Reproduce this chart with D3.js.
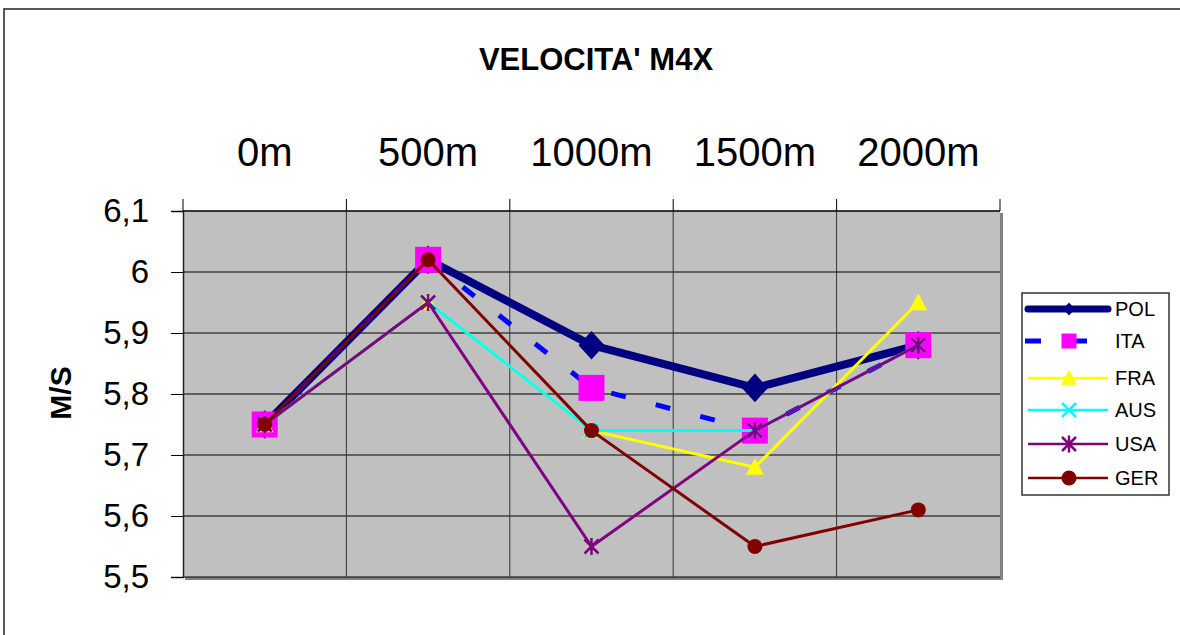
<!DOCTYPE html>
<html><head><meta charset="utf-8">
<script src="https://cdn.jsdelivr.net/npm/d3@7/dist/d3.min.js"></script>
<style>body{margin:0;background:#fff}svg{display:block;font-family:"Liberation Sans",Arial,sans-serif}</style>
</head><body><svg id="c" width="1180" height="635"></svg>
<script>
const categories = ["0m","500m","1000m","1500m","2000m"];
const seriesNames = ["POL","ITA","FRA","AUS","USA","GER"];
const POL = [5.75, 6.02, 5.88, 5.81, 5.88];
const ITA = [5.75, 6.02, 5.81, 5.74, 5.88];
const FRA = [5.75, 5.95, 5.74, 5.68, 5.95];
const AUS = [5.75, 5.95, 5.74, 5.74, 5.88];
const USA = [5.75, 5.95, 5.55, 5.74, 5.88];
const GER = [5.75, 6.02, 5.74, 5.55, 5.61];
const yTicks = [5.5, 5.6, 5.7, 5.8, 5.9, 6.0, 6.1];
const yTickLabels = ["5,5","5,6","5,7","5,8","5,9","6","6,1"];
const title = "VELOCITA' M4X";
const yTitle = "M/S";

const seriesValues = [POL, ITA, FRA, AUS, USA, GER];
const styles = {
  POL:{color:"#000080", width:8, dash:null, marker:"diamond", fill:"#000080"},
  ITA:{color:"#0000FF", width:5, dash:"15,31", marker:"square", fill:"#FF00FF"},
  FRA:{color:"#FFFF00", width:3, dash:null, marker:"triangle", fill:"#FFFF00"},
  AUS:{color:"#00FFFF", width:3, dash:null, marker:"x", fill:"#00FFFF"},
  USA:{color:"#800080", width:3, dash:null, marker:"star", fill:"#800080"},
  GER:{color:"#800000", width:3, dash:null, marker:"circle", fill:"#800000"}
};

const svg = d3.select("#c");
const L = 183, R = 1000, T = 211, B = 577;
const x = d3.scaleBand().domain(categories).range([L, R]).padding(0);
const y = d3.scaleLinear().domain([5.5, 6.1]).range([B, T]);
const cx = c => x(c) + x.bandwidth()/2;

// outer border
svg.append("rect").attr("x",4).attr("y",9).attr("width",1190).attr("height",650)
  .attr("fill","none").attr("stroke","#222").attr("stroke-width",1.5);

// title
svg.append("text").attr("x",596).attr("y",70).attr("text-anchor","middle")
  .attr("font-weight","bold").attr("font-size",31).text(title);

// plot area shadow + fill
svg.append("rect").attr("x",L+2).attr("y",T+2).attr("width",R-L+1).attr("height",B-T+1).attr("fill","#808080");
svg.append("rect").attr("x",L).attr("y",T).attr("width",R-L).attr("height",B-T).attr("fill","#C0C0C0");

// horizontal gridlines
svg.append("g").selectAll("line").data(yTicks).join("line")
  .attr("x1",L).attr("x2",R).attr("y1",d=>y(d)).attr("y2",d=>y(d))
  .attr("stroke","#000").attr("stroke-width",1);
// vertical gridlines
const bounds = categories.map(c => x(c)).concat([R]);
svg.append("g").selectAll("line").data(bounds.slice(1,-1)).join("line")
  .attr("x1",d=>d).attr("x2",d=>d).attr("y1",T).attr("y2",B)
  .attr("stroke","#333").attr("stroke-width",1);

// left axis
const yAxis = svg.append("g").attr("transform",`translate(${L},0)`)
  .call(d3.axisLeft(y).tickValues(yTicks).tickSize(12).tickPadding(22)
    .tickFormat((d,i)=>yTickLabels[i]));
yAxis.select(".domain").attr("stroke","#222").attr("stroke-width",1.5);
yAxis.selectAll(".tick line").attr("stroke","#000");
yAxis.selectAll(".tick text").attr("font-size",33).attr("fill","#000")
  .attr("font-family","Liberation Sans, Arial, sans-serif");

// top axis: ticks at boundaries, labels at centers
svg.append("line").attr("x1",L).attr("x2",R).attr("y1",T).attr("y2",T).attr("stroke","#222").attr("stroke-width",1.5);
svg.append("g").selectAll("line").data(bounds).join("line")
  .attr("x1",d=>d).attr("x2",d=>d).attr("y1",T).attr("y2",T-12).attr("stroke","#000");
const xAxis = svg.append("g").attr("transform",`translate(0,166)`)
  .call(d3.axisTop(x).tickSize(0).tickPadding(0));
xAxis.select(".domain").remove();
xAxis.selectAll(".tick text").attr("font-size",40).attr("fill","#000").attr("dy",0)
  .attr("font-family","Liberation Sans, Arial, sans-serif");

// y title
svg.append("text").attr("transform","translate(71,393) rotate(-90)").attr("text-anchor","middle")
  .attr("font-weight","bold").attr("font-size",30).text(yTitle);

// markers
function markerPath(type, s){
  switch(type){
    case "diamond": return `M0,${-s*1.1}L${s},0L0,${s*1.1}L${-s},0Z`;
    case "square": return `M${-s},${-s}H${s}V${s}H${-s}Z`;
    case "triangle": return `M0,${-s}L${s},${s*0.85}L${-s},${s*0.85}Z`;
    case "x": return `M${-s},${-s}L${s},${s}M${-s},${s}L${s},${-s}`;
    case "star": return `M${-s},${-s}L${s},${s}M${-s},${s}L${s},${-s}M0,${-s*1.2}V${s*1.2}`;
  }
}
const markerSize = {POL:13, ITA:13, FRA:9, AUS:7, USA:7, GER:7.5};
const legendMarkerSize = {POL:6, ITA:7.5, FRA:8, AUS:7, USA:7, GER:7.5};

function drawMarker(g, name, px, py, s){
  const st = styles[name];
  if(st.marker==="circle"){
    g.append("circle").attr("cx",px).attr("cy",py).attr("r",s).attr("fill",st.fill);
  } else if(st.marker==="x" || st.marker==="star"){
    g.append("path").attr("transform",`translate(${px},${py})`).attr("d",markerPath(st.marker,s))
      .attr("fill","none").attr("stroke",st.fill).attr("stroke-width",2.5);
  } else {
    g.append("path").attr("transform",`translate(${px},${py})`).attr("d",markerPath(st.marker,s))
      .attr("fill",st.fill);
  }
}

const line = d3.line().x((d,i)=>cx(categories[i])).y(d=>y(d));
seriesNames.forEach((name, k) => {
  const st = styles[name];
  const g = svg.append("g");
  g.append("path").attr("d", line(seriesValues[k])).attr("fill","none")
    .attr("stroke",st.color).attr("stroke-width",st.width)
    .attr("stroke-linejoin","round")
    .attr("stroke-dasharray",st.dash);
  seriesValues[k].forEach((v,i) => drawMarker(g, name, cx(categories[i]), y(v), markerSize[name]));
});

// legend
const lg = svg.append("g");
lg.append("rect").attr("x",1022).attr("y",293).attr("width",147).attr("height",202)
  .attr("fill","#fff").attr("stroke","#333").attr("stroke-width",1.5);
const legendY = [309, 341, 378, 410, 444, 478];
seriesNames.forEach((name,k) => {
  const st = styles[name];
  const yy = legendY[k];
  const g = lg.append("g");
  if(name==="ITA"){
    g.append("line").attr("x1",1025).attr("x2",1041).attr("y1",yy).attr("y2",yy).attr("stroke",st.color).attr("stroke-width",st.width);
    g.append("line").attr("x1",1069).attr("x2",1087).attr("y1",yy).attr("y2",yy).attr("stroke",st.color).attr("stroke-width",st.width);
  } else {
    g.append("line").attr("x1",1028).attr("x2",1108).attr("y1",yy).attr("y2",yy)
      .attr("stroke",st.color).attr("stroke-width",name==="POL"?7:2.5)
      .attr("stroke-linecap",name==="POL"?"round":"butt");
  }
  drawMarker(g, name, 1069, yy, legendMarkerSize[name]);
  g.append("text").attr("x",1115).attr("y",yy+7).attr("font-size",20).attr("fill","#000").text(name);
});
</script></body></html>
